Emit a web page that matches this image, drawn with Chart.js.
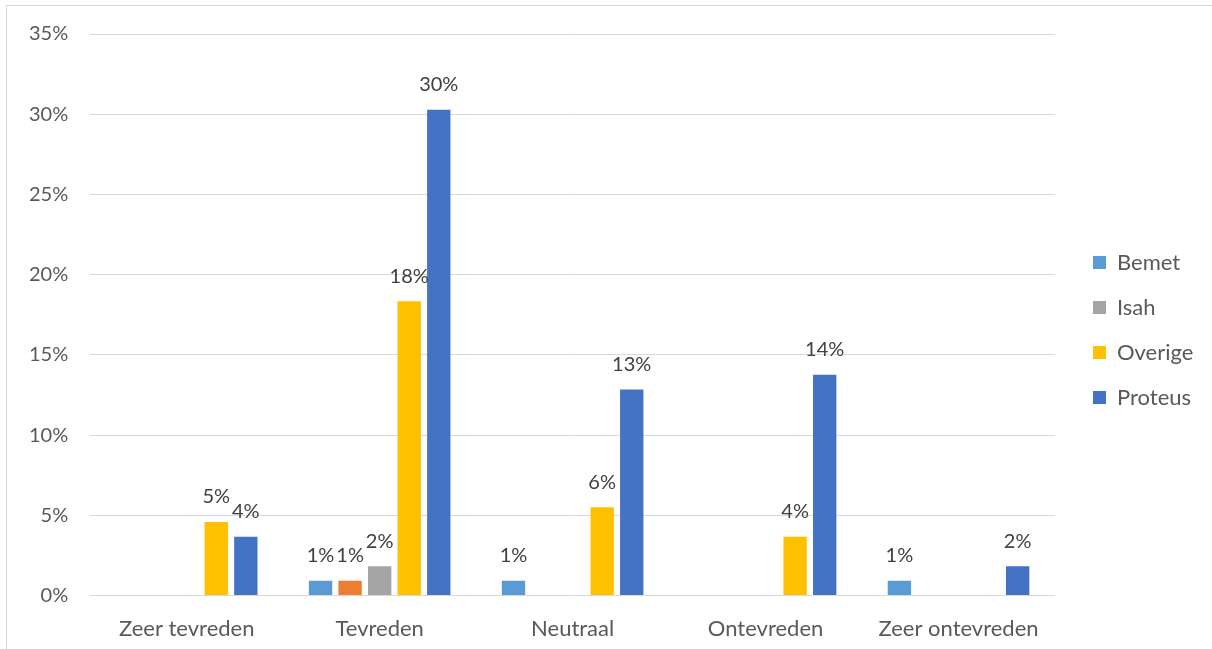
<!DOCTYPE html>
<html>
<head>
<meta charset="utf-8">
<script src="https://cdn.jsdelivr.net/npm/chart.js@4"></script>
<style>
  html, body { margin: 0; padding: 0; background: #fff; overflow: hidden; }
  #wrap {
    position: absolute; left: 6px; top: 5px;
    width: 1220px; height: 680px;
    border: 1px solid #d9d9d9; box-sizing: border-box;
  }
  #box { position: absolute; left: 0; top: -6px; width: 1206px; height: 666px; }
</style>
</head>
<body>
<div id="wrap"><div id="box"><canvas id="chart"></canvas></div></div>
<script>
const categories = ["Zeer tevreden", "Tevreden", "Neutraal", "Ontevreden", "Zeer ontevreden"];
const seriesNames = ["Bemet", "Oranje", "Isah", "Overige", "Proteus"];
// percentages
const bemet   = [0,    0.92, 0.92, 0,    0.92];
const oranje  = [0,    0.92, 0,    0,    0];
const isah    = [0,    1.83, 0,    0,    0];
const overige = [4.59, 18.35, 5.5, 3.67, 0];
const proteus = [3.67, 30.28, 12.84, 13.76, 1.83];
const yTicks  = [0, 5, 10, 15, 20, 25, 30, 35];

const colors = ["#5B9BD5", "#ED7D31", "#A5A5A5", "#FFC000", "#4472C4"];
const fontFam = "Lato, 'Open Sans', sans-serif";

// labels boven de staven (geen datalabels plugin beschikbaar)
const barLabels = {
  id: "barLabels",
  afterDatasetsDraw(chart) {
    const ctx = chart.ctx;
    ctx.save();
    ctx.font = "20px " + fontFam;
    ctx.fillStyle = "#404040";
    ctx.textAlign = "center";
    ctx.textBaseline = "middle";
    chart.data.datasets.forEach((ds, i) => {
      const meta = chart.getDatasetMeta(i);
      meta.data.forEach((bar, j) => {
        const v = ds.data[j];
        if (!v) return;
        ctx.fillText(Math.round(v) + "%", bar.x, bar.y - 25);
      });
    });
    ctx.restore();
  },
};

// legenda: vaste breedte, items iets verschoven
const legendFix = {
  id: "legendFix",
  afterInit(chart) {
    const lg = chart.legend;
    if (!lg) return;
    const fit = lg.fit;
    lg.fit = function () { fit.call(this); this.width = 158; };
    const draw = lg.draw;
    lg.draw = function () {
      this.ctx.save();
      this.ctx.translate(15, -5);
      draw.call(this);
      this.ctx.restore();
    };
  },
};

const allSeries = [bemet, oranje, isah, overige, proteus];

new Chart(document.getElementById("chart").getContext("2d"), {
  type: "bar",
  data: {
    labels: categories,
    datasets: allSeries.map((d, i) => ({
      label: seriesNames[i],
      data: d,
      backgroundColor: colors[i],
      categoryPercentage: 0.766,
      barPercentage: 0.79,
    })),
  },
  options: {
    responsive: true,
    maintainAspectRatio: false,
    animation: false,
    layout: { padding: { top: 8, right: 0, left: 0, bottom: 4 } },
    plugins: {
      legend: {
        position: "right",
        labels: {
          color: "#595959",
          font: { size: 22, family: fontFam },
          boxWidth: 13,
          boxHeight: 13,
          padding: 23,
          filter: item => item.text !== "Oranje",
        },
      },
      tooltip: { enabled: false },
    },
    scales: {
      y: {
        min: 0,
        max: 35,
        afterBuildTicks: axis => { axis.ticks = yTicks.map(v => ({ value: v })); },
        ticks: {
          color: "#595959",
          font: { size: 20, family: fontFam },
          padding: 22,
          callback: v => v + "%",
        },
        grid: { color: "#d9d9d9", drawTicks: false },
        border: { display: false },
      },
      x: {
        ticks: { color: "#595959", font: { size: 22, family: fontFam }, padding: 20 },
        grid: { display: false, drawTicks: false },
        border: { display: false },
      },
    },
  },
  plugins: [barLabels, legendFix],
});
</script>
</body>
</html>
